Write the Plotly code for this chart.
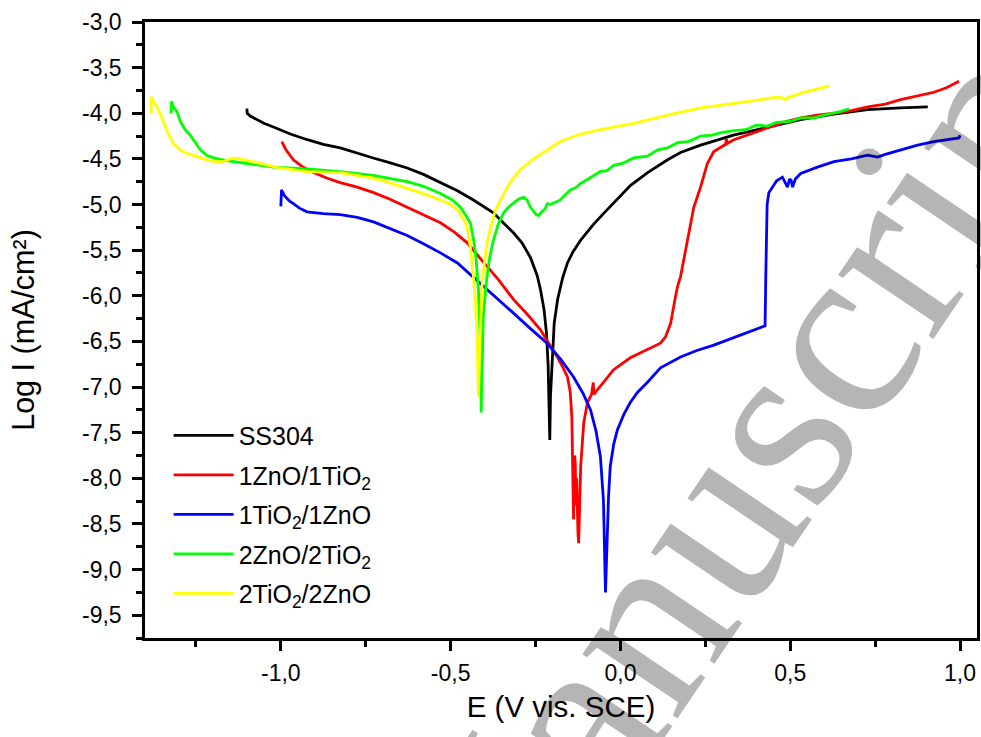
import plotly.graph_objects as go

# Potentiodynamic polarization curves: E (V vs SCE) against log current density
ss304_e = [-1.100, -1.099, -1.09, -1.07, -1.05, -1.022, -0.97, -0.922, -0.875, -0.825, -0.775,
           -0.728, -0.68, -0.628, -0.58, -0.530, -0.48, -0.433, -0.40, -0.374, -0.345, -0.315,
           -0.29, -0.265, -0.245, -0.235, -0.225, -0.218, -0.213, -0.210, -0.208, -0.206,
           -0.203, -0.200, -0.195, -0.185, -0.170, -0.156, -0.14, -0.117, -0.08, -0.050,
           -0.020, 0.03, 0.080, 0.139, 0.177, 0.236, 0.333, 0.433, 0.531, 0.628, 0.728,
           0.825, 0.905]
ss304_logi = [-3.95, -4.00, -4.03, -4.07, -4.11, -4.15, -4.23, -4.29, -4.34, -4.38, -4.44,
              -4.49, -4.54, -4.60, -4.67, -4.76, -4.85, -4.95, -5.03, -5.09, -5.20, -5.31,
              -5.42, -5.58, -5.78, -5.94, -6.15, -6.40, -6.75, -7.10, -7.58, -7.10,
              -6.85, -6.59, -6.30, -6.04, -5.80, -5.64, -5.52, -5.39, -5.22, -5.10,
              -4.98, -4.79, -4.65, -4.51, -4.43, -4.35, -4.24, -4.15, -4.07, -4.01, -3.96,
              -3.94, -3.93]

zno1_tio1_e = [-0.997, -0.985, -0.963, -0.935, -0.904, -0.865, -0.825, -0.775, -0.727, -0.68,
               -0.628, -0.58, -0.530, -0.49, -0.451, -0.413, -0.36, -0.315, -0.275, -0.236,
               -0.21, -0.186, -0.17, -0.156, -0.148, -0.143, -0.141, -0.139, -0.138, -0.137,
               -0.135, -0.133, -0.131, -0.129, -0.127, -0.125, -0.123, -0.121, -0.119, -0.117,
               -0.112, -0.108, -0.097, -0.085, -0.080, -0.078, -0.068, -0.045, -0.020, 0.029,
               0.079, 0.118, 0.133, 0.148, 0.162, 0.168, 0.177, 0.197, 0.216, 0.236, 0.256,
               0.275, 0.295, 0.310, 0.312, 0.315, 0.334, 0.38, 0.433, 0.48, 0.531, 0.58,
               0.629, 0.68, 0.728, 0.78, 0.825, 0.875, 0.923, 0.96, 0.997]
zno1_tio1_logi = [-4.31, -4.40, -4.51, -4.59, -4.65, -4.71, -4.76, -4.81, -4.87, -4.94,
                  -5.03, -5.11, -5.20, -5.30, -5.42, -5.59, -5.82, -6.04, -6.20, -6.37,
                  -6.52, -6.67, -6.78, -6.89, -7.05, -7.33, -7.80, -8.20, -8.45, -8.05,
                  -7.75, -7.83, -8.30, -8.00, -8.40, -8.60, -8.71, -8.30, -7.95, -7.87,
                  -7.60, -7.39, -7.17, -7.08, -6.95, -7.08, -7.03, -6.92, -6.81, -6.68,
                  -6.59, -6.52, -6.45, -6.30, -6.01, -5.90, -5.79, -5.39, -5.03, -4.81, -4.55,
                  -4.42, -4.37, -4.34, -4.28, -4.33, -4.29, -4.23, -4.16, -4.10, -4.05, -4.02,
                  -4.00, -3.97, -3.93, -3.90, -3.85, -3.81, -3.77, -3.72, -3.65]

tio1_zno1_e = [-1.000, -1.000, -0.998, -0.990, -0.975, -0.963, -0.945, -0.923, -0.875, -0.825,
               -0.775, -0.727, -0.68, -0.628, -0.58, -0.530, -0.48, -0.413, -0.36, -0.315,
               -0.265, -0.216, -0.175, -0.138, -0.110, -0.088, -0.072, -0.059, -0.050, -0.046,
               -0.044, -0.041, -0.039, -0.035, -0.030, -0.020, -0.009, 0.010, 0.029, 0.050,
               0.079, 0.118, 0.177, 0.225, 0.275, 0.325, 0.373, 0.422, 0.426, 0.428, 0.430,
               0.432, 0.437, 0.448, 0.460, 0.477, 0.485, 0.492, 0.498, 0.503, 0.507, 0.515,
               0.531, 0.58, 0.629, 0.68, 0.728, 0.757, 0.78, 0.825, 0.875, 0.923, 0.96, 0.997,
               1.0]
tio1_zno1_logi = [-5.02, -4.95, -4.84, -4.90, -4.96, -4.99, -5.04, -5.08, -5.10, -5.11,
                  -5.14, -5.19, -5.26, -5.34, -5.43, -5.53, -5.64, -5.86, -6.04, -6.19,
                  -6.36, -6.52, -6.70, -6.89, -7.07, -7.25, -7.48, -7.76, -8.24, -8.80,
                  -9.25, -8.90, -8.60, -8.20, -7.87, -7.63, -7.47, -7.30, -7.17, -7.06,
                  -6.95, -6.79, -6.67, -6.60, -6.54, -6.47, -6.41, -6.34, -6.33, -5.80, -5.20,
                  -5.00, -4.87, -4.81, -4.74, -4.70, -4.76, -4.81, -4.72, -4.74, -4.81, -4.72,
                  -4.66, -4.59, -4.53, -4.50, -4.46, -4.48, -4.45, -4.40, -4.35, -4.31, -4.29,
                  -4.27, -4.24]

zno2_tio2_e = [-1.323, -1.322, -1.315, -1.306, -1.297, -1.287, -1.277, -1.267, -1.252, -1.237,
               -1.218, -1.198, -1.16, -1.119, -1.07, -1.022, -0.923, -0.825, -0.727, -0.628,
               -0.58, -0.530, -0.495, -0.471, -0.455, -0.442, -0.432, -0.425, -0.418, -0.414,
               -0.412, -0.410, -0.407, -0.404, -0.398, -0.393, -0.385, -0.374, -0.36, -0.344,
               -0.33, -0.315, -0.30, -0.285, -0.275, -0.265, -0.256, -0.248, -0.241, -0.232,
               -0.222, -0.215, -0.206, -0.195, -0.185, -0.177, -0.165, -0.147, -0.130, -0.118,
               -0.09, -0.06, -0.040, -0.020, 0.005, 0.039, 0.079, 0.11, 0.138, 0.17, 0.20,
               0.236, 0.27, 0.30, 0.334, 0.37, 0.40, 0.432, 0.46, 0.50, 0.531, 0.57, 0.60,
               0.629, 0.65, 0.673]
zno2_tio2_logi = [-4.00, -3.87, -3.94, -3.98, -4.08, -4.15, -4.20, -4.24, -4.32, -4.40,
                  -4.46, -4.49, -4.52, -4.54, -4.57, -4.59, -4.61, -4.64, -4.68, -4.75,
                  -4.80, -4.88, -4.95, -5.03, -5.12, -5.20, -5.39, -5.60, -5.94, -6.30,
                  -6.59, -7.28, -6.70, -6.23, -5.98, -5.79, -5.58, -5.39, -5.22, -5.09,
                  -5.03, -4.98, -4.94, -4.92, -4.95, -5.03, -5.08, -5.11, -5.12, -5.08,
                  -5.05, -4.99, -5.00, -4.98, -4.96, -4.95, -4.90, -4.84, -4.81, -4.77,
                  -4.71, -4.64, -4.63, -4.57, -4.55, -4.49, -4.47, -4.40, -4.38, -4.32, -4.31,
                  -4.25, -4.24, -4.21, -4.19, -4.18, -4.13, -4.14, -4.10, -4.09, -4.05, -4.05,
                  -4.02, -4.00, -3.98, -3.95]

tio2_zno2_e = [-1.382, -1.381, -1.375, -1.365, -1.355, -1.346, -1.332, -1.317, -1.297, -1.276,
               -1.245, -1.217, -1.195, -1.170, -1.155, -1.140, -1.12, -1.095, -1.070, -1.035,
               -1.002, -0.96, -0.923, -0.825, -0.727, -0.68, -0.628, -0.58, -0.530, -0.50,
               -0.480, -0.462, -0.451, -0.442, -0.434, -0.427, -0.422, -0.418, -0.413, -0.407,
               -0.400, -0.393, -0.38, -0.368, -0.35, -0.333, -0.315, -0.295, -0.26, -0.216,
               -0.177, -0.12, -0.059, 0.039, 0.138, 0.236, 0.334, 0.40, 0.462, 0.475, 0.486,
               0.50, 0.531, 0.575, 0.616]
tio2_zno2_logi = [-4.00, -3.82, -3.88, -3.93, -4.01, -4.10, -4.22, -4.33, -4.40, -4.44,
                  -4.48, -4.51, -4.53, -4.53, -4.51, -4.49, -4.50, -4.52, -4.54, -4.57,
                  -4.60, -4.62, -4.64, -4.65, -4.71, -4.76, -4.82, -4.88, -4.95, -5.00,
                  -5.06, -5.16, -5.25, -5.46, -5.75, -6.05, -6.50, -7.11, -6.40, -5.86,
                  -5.62, -5.42, -5.22, -5.06, -4.93, -4.81, -4.71, -4.62, -4.51, -4.40,
                  -4.31, -4.23, -4.18, -4.11, -4.02, -3.94, -3.89, -3.86, -3.82, -3.83, -3.85,
                  -3.82, -3.78, -3.74, -3.70]

series_names = ["SS304", "1ZnO/1TiO<sub>2</sub>", "1TiO<sub>2</sub>/1ZnO",
                "2ZnO/2TiO<sub>2</sub>", "2TiO<sub>2</sub>/2ZnO"]
series_colors = ["#000000", "#ff0000", "#0000ff", "#00ff00", "#ffff00"]

x_tick_vals = [-1.0, -0.5, 0.0, 0.5, 1.0]
x_tick_text = ["-1,0", "-0,5", "0,0", "0,5", "1,0"]
y_tick_vals = [-3.0, -3.5, -4.0, -4.5, -5.0, -5.5, -6.0, -6.5, -7.0, -7.5, -8.0, -8.5, -9.0, -9.5]
y_tick_text = ["-3,0", "-3,5", "-4,0", "-4,5", "-5,0", "-5,5", "-6,0", "-6,5", "-7,0", "-7,5",
               "-8,0", "-8,5", "-9,0", "-9,5"]

curves = [(ss304_e, ss304_logi), (zno1_tio1_e, zno1_tio1_logi), (tio1_zno1_e, tio1_zno1_logi),
          (zno2_tio2_e, zno2_tio2_logi), (tio2_zno2_e, tio2_zno2_logi)]

SANS = "Liberation Sans, Arial, sans-serif"

fig = go.Figure()
for i, ((e, logi), name, color) in enumerate(zip(curves, series_names, series_colors)):
    fig.add_trace(go.Scatter(x=e, y=logi, mode="lines", name=name, legendgroup=f"g{i}",
                             line=dict(color=color, width=2.8)))

axis_common = dict(
    showline=True, linecolor="black", linewidth=2.5, mirror=True,
    ticks="outside", ticklen=10, tickwidth=2.5, tickcolor="black",
    showgrid=False, zeroline=False,
    tickfont=dict(family=SANS, size=23, color="black"),
    minor=dict(ticks="outside", ticklen=6, tickwidth=2.5, tickcolor="black", dtick=0.25, showgrid=False),
)

fig.update_xaxes(axis_common, range=[-1.4, 1.05], tickmode="array", tickvals=x_tick_vals,
                 ticktext=x_tick_text, ticklabelstandoff=3,
                 title=dict(text="E (V vis. SCE)", standoff=12,
                            font=dict(family=SANS, size=29.5, color="black")))
fig.update_yaxes(axis_common, range=[-9.75, -3.0], tickmode="array", tickvals=y_tick_vals,
                 ticktext=y_tick_text, ticklabelstandoff=6,
                 title=dict(text="Log I (mA/cm²)", standoff=39,
                            font=dict(family=SANS, size=30.5, color="black")))

fig.update_layout(
    width=981, height=737,
    margin=dict(l=145, r=4, t=22, b=99, autoexpand=False),
    paper_bgcolor="white", plot_bgcolor="white",
    showlegend=True,
    legend=dict(x=0.0284, y=0.366, xanchor="left", yanchor="top", bgcolor="rgba(0,0,0,0)",
                font=dict(family=SANS, size=25, color="black"),
                itemwidth=60, tracegroupgap=4, traceorder="grouped"),
    annotations=[dict(text="Manuscript", xref="paper", yref="paper", x=0.7115, y=0.2565,
                      xanchor="center", yanchor="middle", textangle=-56, showarrow=False,
                      font=dict(family="Liberation Serif, Times New Roman, serif", size=250,
                                color="rgba(0,0,0,0.29)"))],
)

fig.write_html("out.html")
